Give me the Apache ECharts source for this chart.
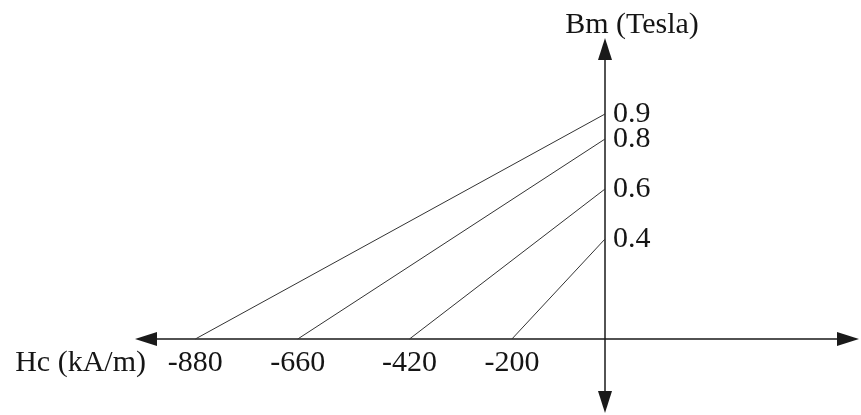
<!DOCTYPE html>
<html>
<head>
<meta charset="utf-8">
<script src="https://cdn.jsdelivr.net/npm/echarts@6/dist/echarts.min.js"></script>
<style>
  html, body { margin: 0; padding: 0; background: #ffffff; }
  #chart { width: 861px; height: 415px; }
</style>
</head>
<body>
<div id="chart"></div>
<script>
// Coercivity Hc (kA/m) where each line meets the horizontal axis
const hcValues = [-880, -660, -420, -200];
// Remanence Bm (Tesla) where each line meets the vertical axis
const bmValues = [0.9, 0.8, 0.6, 0.4];
// Tick labels
const xTickLabels = [-880, -660, -420, -200];
const yTickLabels = [0.9, 0.8, 0.6, 0.4];
const xAxisName = 'Hc (kA/m)';
const yAxisName = 'Bm (Tesla)';

const FONT = '"Liberation Serif", "Times New Roman", serif';
const TXT = '#151515';
const FS = 30;

// Axis ranges (value units)
const X_MIN = -986, X_MAX = 522;
const Y_MIN = -0.252, Y_MAX = 1.16;
const GRID = { left: 146, right: 13, top: 49, bottom: 13 };
const W = 861, H = 415;
// place each axis line at the other axis' zero through the axis offset
const gridW = W - GRID.left - GRID.right;
const gridH = H - GRID.top - GRID.bottom;
const xZeroOffset = -gridH * (0 - Y_MIN) / (Y_MAX - Y_MIN);
const yZeroOffset = -gridW * (X_MAX - 0) / (X_MAX - X_MIN);

// blank labels at the axis ends keep ECharts' min/max-label overlap check
// from hiding one of the closely spaced real labels
function withBlankEnds(values, lo, hi) {
  return [lo].concat(values, [hi]);
}
function onlyListed(list) {
  return function (v) {
    for (let i = 0; i < list.length; i++) {
      if (Math.abs(list[i] - v) < 1e-9) return String(list[i]);
    }
    return '';
  };
}

const series = hcValues.map(function (hc, i) {
  return {
    type: 'line',
    data: [[hc, 0], [0, bmValues[i]]],
    symbol: 'none',
    silent: true,
    lineStyle: { color: '#333333', width: 1 },
    z: 1
  };
});

const chart = echarts.init(document.getElementById('chart'), null, { renderer: 'canvas' });
chart.setOption({
  animation: false,
  backgroundColor: '#ffffff',
  grid: Object.assign({ containLabel: false, outerBoundsMode: 'none' }, GRID),
  xAxis: {
    type: 'value',
    min: X_MIN,
    max: X_MAX,
    position: 'bottom',
    offset: xZeroOffset,
    name: xAxisName,
    nameLocation: 'start',
    nameGap: 0,
    nameMoveOverlap: false,
    nameTextStyle: {
      fontFamily: FONT, fontSize: FS, color: TXT,
      align: 'right', verticalAlign: 'top', padding: [9, 0, 0, 0]
    },
    axisLine: {
      show: true, onZero: false,
      symbol: ['triangle', 'triangle'],
      symbolSize: [14, 22],
      lineStyle: { color: '#1a1a1a', width: 1.5 }
    },
    axisTick: { show: false },
    splitLine: { show: false },
    axisLabel: {
      customValues: withBlankEnds(xTickLabels, X_MIN, X_MAX),
      formatter: onlyListed(xTickLabels),
      hideOverlap: false,
      margin: 9,
      fontFamily: FONT, fontSize: FS, color: TXT
    }
  },
  yAxis: {
    type: 'value',
    min: Y_MIN,
    max: Y_MAX,
    position: 'right',
    offset: yZeroOffset,
    name: yAxisName,
    nameLocation: 'end',
    nameGap: 9,
    nameMoveOverlap: false,
    nameTextStyle: {
      fontFamily: FONT, fontSize: FS, color: TXT,
      padding: [0, 0, 0, 54]
    },
    axisLine: {
      show: true, onZero: false,
      symbol: ['triangle', 'triangle'],
      symbolSize: [14, 22],
      lineStyle: { color: '#1a1a1a', width: 1.5 }
    },
    axisTick: { show: false },
    splitLine: { show: false },
    axisLabel: {
      customValues: withBlankEnds(yTickLabels, Y_MIN, Y_MAX),
      formatter: onlyListed(yTickLabels),
      hideOverlap: false,
      margin: 8,
      lineHeight: 20,
      padding: [6, 0, 0, 0],
      fontFamily: FONT, fontSize: FS, color: TXT
    }
  },
  series: series
});
</script>
</body>
</html>
